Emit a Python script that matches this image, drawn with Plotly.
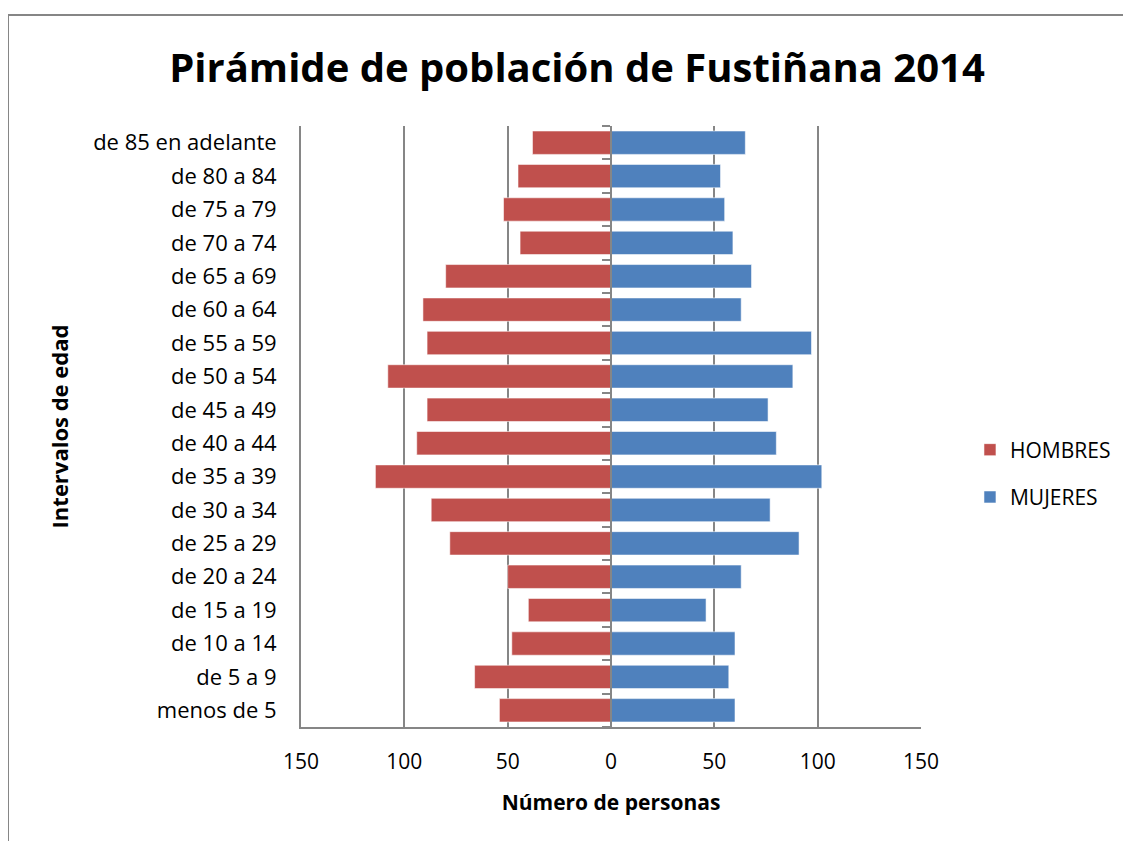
import plotly.graph_objects as go

# Data (bottom to top)
categorias = ["menos de 5", "de 5 a 9", "de 10 a 14", "de 15 a 19", "de 20 a 24",
              "de 25 a 29", "de 30 a 34", "de 35 a 39", "de 40 a 44", "de 45 a 49",
              "de 50 a 54", "de 55 a 59", "de 60 a 64", "de 65 a 69", "de 70 a 74",
              "de 75 a 79", "de 80 a 84", "de 85 en adelante"]
hombres = [54, 66, 48, 40, 50, 78, 87, 114, 94, 89, 108, 89, 91, 80, 44, 52, 45, 38]
mujeres = [60, 57, 60, 46, 63, 91, 77, 102, 80, 76, 88, 97, 63, 68, 59, 55, 53, 65]
tick_vals = [-150, -100, -50, 0, 50, 100, 150]
tick_text = ["150", "100", "50", "0", "50", "100", "150"]

FONT = "Open Sans"
GRID = "#868686"
ROJO = "#C0504D"
AZUL = "#4F81BD"

# page body has an 8px default margin: compensate so the picture lines up
OFF = 8
W, H = 1131 - OFF, 841 - OFF
L, T = 301 - OFF, 126 - OFF
PW, PH = 620, 601

fig = go.Figure()
fig.add_trace(go.Bar(
    y=categorias, x=[-v for v in hombres], orientation="h", name="HOMBRES",
    marker=dict(color=ROJO, line=dict(color="rgba(255,255,255,0.55)", width=1)),
    customdata=hombres, hovertemplate="%{y}: %{customdata}<extra>HOMBRES</extra>",
    legendgroup="h", yaxis="y"))
fig.add_trace(go.Bar(
    y=categorias, x=mujeres, orientation="h", name="MUJERES",
    marker=dict(color=AZUL, line=dict(color="rgba(255,255,255,0.55)", width=1)),
    hovertemplate="%{y}: %{x}<extra>MUJERES</extra>",
    legendgroup="m", yaxis="y2"))

fig.update_layout(
    width=W, height=H,
    margin=dict(l=L, r=W - L - PW, t=T, b=H - T - PH),
    paper_bgcolor="white", plot_bgcolor="white",
    font=dict(family=FONT, color="black", size=22),
    barmode="overlay", bargap=0.3,
    title=dict(text="<b>Pirámide de población de Fustiñana 2014</b>",
               font=dict(family=FONT, size=40, color="black"),
               x=(577 - OFF) / W, xanchor="center", xref="container",
               y=1 - (68 - OFF) / H, yanchor="middle", yref="container"),
    xaxis=dict(range=[-150, 150], tickvals=tick_vals, ticktext=tick_text,
               showgrid=True, gridcolor=GRID, gridwidth=2,
               zeroline=False, showline=True, linecolor=GRID, linewidth=2,
               ticks="outside", ticklen=15, tickcolor="rgba(0,0,0,0)",
               tickfont=dict(size=21),
               title=dict(text="<b>Número de personas</b>", font=dict(size=21), standoff=21),
               fixedrange=True),
    yaxis=dict(type="category", categoryorder="array", categoryarray=categorias,
               range=[-0.5, len(categorias) - 0.5],
               showgrid=False, zeroline=False, showline=True, linecolor=GRID, linewidth=2,
               ticks="outside", ticklen=18, tickcolor="rgba(0,0,0,0)",
               tickfont=dict(size=22),
               title=dict(text="<b>Intervalos de edad</b>", font=dict(size=22), standoff=18),
               fixedrange=True),
    yaxis2=dict(type="category", categoryorder="array", categoryarray=categorias,
                overlaying="y", anchor="free", position=0.5, side="left",
                range=[-0.5, len(categorias) - 0.5],
                showgrid=False, zeroline=False, showline=True, linecolor=GRID, linewidth=2,
                showticklabels=False, ticks="outside", tickson="boundaries",
                ticklen=8, tickcolor=GRID, tickwidth=2, fixedrange=True),
    legend=dict(x=1.079, y=0.495, xanchor="left", yanchor="top",
                traceorder="grouped", tracegroupgap=17,
                font=dict(size=21, color="black"), bgcolor="rgba(0,0,0,0)"),
    showlegend=True,
)

# Outer chart frame (cropped at right/bottom as in the reference)
px_x = lambda p: (p - OFF - L) / PW
px_y = lambda p: (T + PH - (p - OFF)) / PH
fig.add_shape(type="line", xref="paper", yref="paper",
              x0=px_x(8), x1=px_x(8), y0=px_y(15), y1=px_y(870),
              line=dict(color=GRID, width=2))
fig.add_shape(type="line", xref="paper", yref="paper",
              x0=px_x(8), x1=px_x(1160), y0=px_y(15), y1=px_y(15),
              line=dict(color=GRID, width=2))

fig.write_html("out.html")
